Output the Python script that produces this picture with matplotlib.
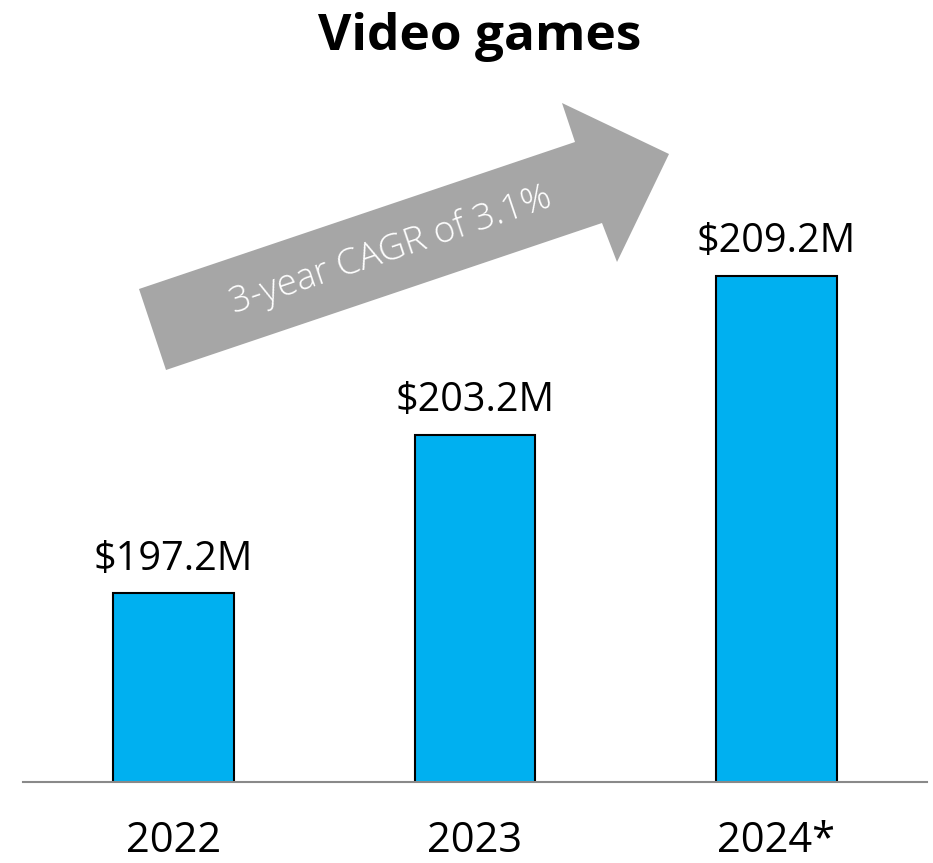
import matplotlib
matplotlib.use("Agg")
import matplotlib.pyplot as plt
from matplotlib.patches import Polygon

plt.rcParams['font.family'] = ['Open Sans', 'DejaVu Sans']

# 数据
years = ['2022', '2023', '2024*']
revenue = [197.2, 203.2, 209.2]   # 单位：百万美元
cagr_text = '3-year CAGR of 3.1%'
title = 'Video games'

W, H = 933, 863
fig = plt.figure(figsize=(W / 100, H / 100), dpi=100)
ax = fig.add_axes([23 / W, 1 - 781.5 / H, 904 / W, 681 / H])

x = range(len(years))
ax.bar(x, revenue, width=0.4, color='#00B0F0', edgecolor='black', linewidth=1.5, zorder=2)

ax.set_xlim(-0.5, 2.5)
ax.set_ylim(190.08, 215.84)

# 柱顶数值标签
for xi, v in zip(x, revenue):
    ax.annotate(f'${v:.1f}M', (xi, v), xytext=(0, 17), textcoords='offset points',
                ha='center', va='baseline', fontsize=28.5, color='black')

# 坐标轴样式
for side in ['top', 'right', 'left']:
    ax.spines[side].set_visible(False)
ax.spines['bottom'].set_color('#898989')
ax.spines['bottom'].set_linewidth(1.5)
ax.spines['bottom'].set_zorder(3)
ax.set_yticks([])
ax.set_xticks(list(x))
ax.set_xticklabels(years, fontsize=30)
ax.tick_params(axis='x', length=0, pad=28)

# 增长箭头（像素坐标 -> 图形坐标）
arrow_px = [(139, 289), (575, 142), (562, 103), (669, 154),
            (617, 262), (602, 223), (166, 370)]
arrow = Polygon([(px / W, 1 - py / H) for px, py in arrow_px], closed=True,
                transform=fig.transFigure, facecolor='#A6A6A6', edgecolor='none')
fig.patches.append(arrow)
fig.text(391 / W, 1 - 251 / H, cagr_text, rotation=18.6, rotation_mode='anchor',
         ha='center', va='center', fontsize=26.5, fontweight='light', color='white')

fig.text(479.5 / W, 1 - 50 / H, title, ha='center', va='baseline',
         fontsize=37, fontweight='bold', color='black')

fig.savefig('out.png', dpi=100)
